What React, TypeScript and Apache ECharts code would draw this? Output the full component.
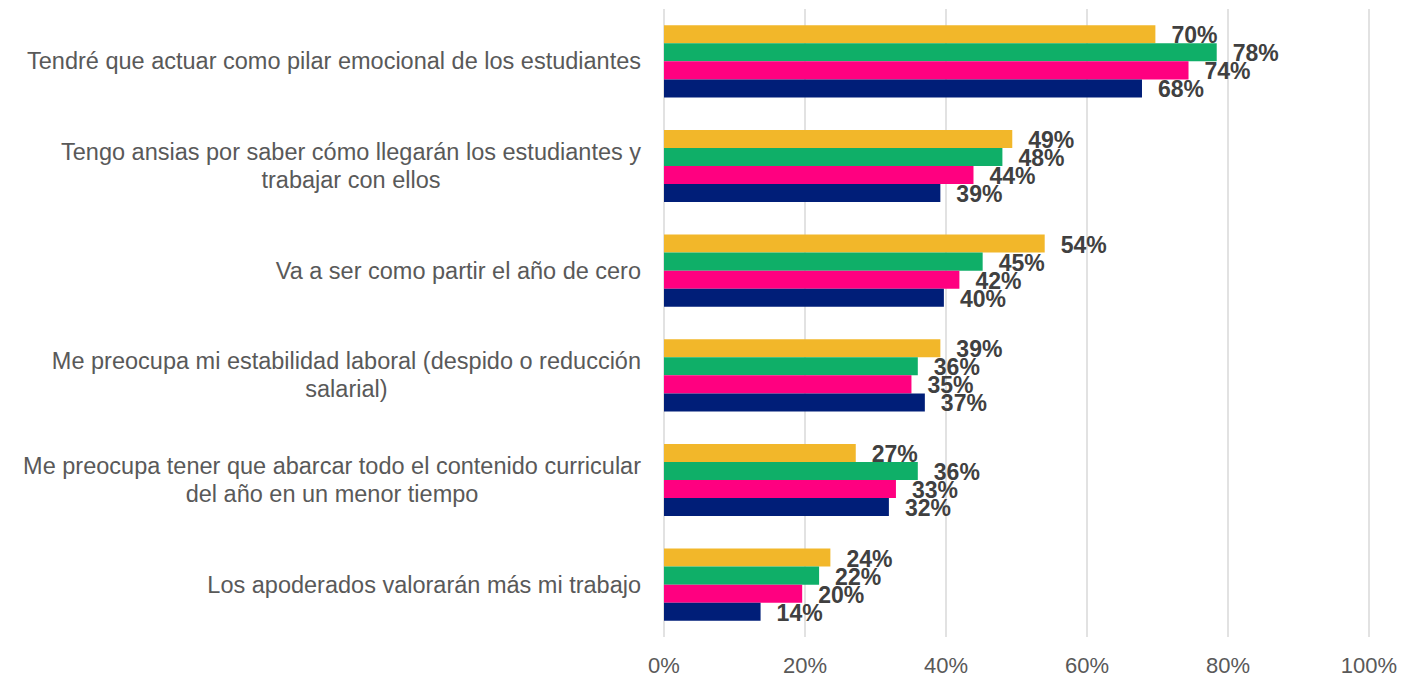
import React, { useEffect, useRef } from "react";
import * as echarts from "echarts";

const categories = [
  "Tendré que actuar como pilar emocional de los estudiantes",
  "Tengo ansias por saber cómo llegarán los estudiantes y\ntrabajar con ellos",
  "Va a ser como partir el año de cero",
  "Me preocupa mi estabilidad laboral (despido o reducción\nsalarial)",
  "Me preocupa tener que abarcar todo el contenido curricular\ndel año en un menor tiempo",
  "Los apoderados valorarán más mi trabajo",
];

const serieYellow = [69.7, 49.4, 54.0, 39.2, 27.2, 23.6];
const serieGreen = [78.4, 48.0, 45.2, 36.0, 36.0, 22.0];
const serieMagenta = [74.4, 43.9, 41.9, 35.1, 32.9, 19.6];
const serieNavy = [67.8, 39.2, 39.7, 37.0, 31.9, 13.7];

const xTicks = [0, 20, 40, 60, 80, 100];

const FONT = "'Liberation Sans', Arial, sans-serif";

export default function App() {
  const ref = useRef<HTMLDivElement>(null);
  useEffect(() => {
    if (!ref.current) return;
    const chart = echarts.init(ref.current, undefined, { renderer: "svg" });
    const mk = (name: string, data: number[], color: string) => ({
      name,
      type: "bar",
      data,
      barGap: "0%",
      barCategoryGap: "31%",
      itemStyle: { color },
      label: {
        show: true,
        position: "right",
        distance: 16,
        offset: [0, 1],
        fontFamily: FONT,
        fontSize: 23,
        fontWeight: "bold",
        color: "#404040",
        formatter: (p: any) => Math.round(p.value) + "%",
      },
    });
    chart.setOption({
      animation: false,
      textStyle: { fontFamily: FONT },
      grid: { left: 664, right: 35, top: 9, bottom: 39, containLabel: false },
      xAxis: {
        type: "value",
        min: xTicks[0],
        max: xTicks[xTicks.length - 1],
        interval: 20,
        axisLine: { show: false },
        axisTick: { show: false },
        splitLine: { show: true, lineStyle: { color: "#D9D9D9", width: 1.5 } },
        axisLabel: {
          formatter: (v: number) => v + "%",
          fontFamily: FONT,
          fontSize: 22,
          color: "#595959",
          margin: 17,
        },
      },
      yAxis: {
        type: "category",
        data: categories,
        inverse: true,
        axisLine: { show: false },
        axisTick: { show: false },
        splitLine: { show: false },
        axisLabel: {
          margin: 23,
          formatter: (v: string) =>
            v
              .split("\n")
              .map((l) => "{c|" + l + "}")
              .join("\n"),
          rich: {
            c: {
              align: "center",
              fontFamily: FONT,
              fontSize: 23.5,
              color: "#595959",
              lineHeight: 28,
            },
          },
        },
      },
      series: [
        mk("Serie 1", serieYellow, "#F2B72A"),
        mk("Serie 2", serieGreen, "#0FAF68"),
        mk("Serie 3", serieMagenta, "#FF0080"),
        mk("Serie 4", serieNavy, "#001E78"),
      ],
    });
    return () => chart.dispose();
  }, []);
  return (
    <div
      ref={ref}
      style={{ position: "fixed", left: 0, top: 0, width: 1404, height: 676, background: "#fff" }}
    />
  );
}
